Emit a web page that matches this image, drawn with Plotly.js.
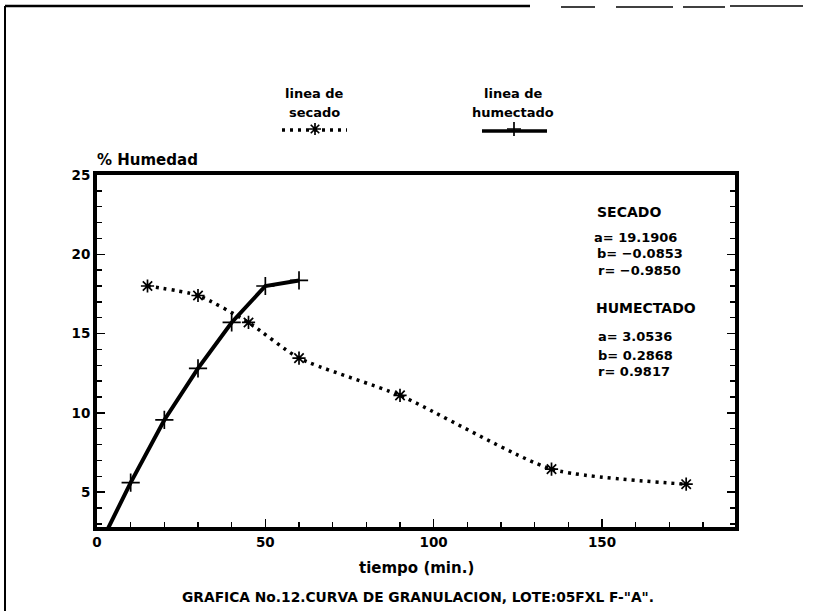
<!DOCTYPE html>
<html>
<head>
<meta charset="utf-8">
<script src="https://cdn.plot.ly/plotly-3.0.1.min.js"></script>
<style>
  html, body { margin: 0; padding: 0; background: #fff; }
  #chart { width: 818px; height: 611px; }
</style>
</head>
<body>
<div id="chart"></div>
<script>
// Curva de granulación, lote 05FXL: % de humedad frente al tiempo
const tiempoSecado = [15, 30, 45, 60, 90, 135, 175];
const humedadSecado = [18.0, 17.4, 15.7, 13.45, 11.1, 6.45, 5.5];
const tiempoHumectado = [0, 10, 20, 30, 40, 50, 60];
const humedadHumectado = [1.3, 5.6, 9.55, 12.8, 15.7, 18.0, 18.35];
const xTicks = [0, 50, 100, 150];
const yTicks = [5, 10, 15, 20, 25];
const regSecado = ['a= 19.1906', 'b= \u22120.0853', 'r= \u22120.9850'];
const regHumectado = ['a= 3.0536', 'b= 0.2868', 'r= 0.9817'];
const leyendaSecado = ['linea de', 'secado'];
const leyendaHumectado = ['linea de', 'humectado'];
const tituloY = '% Humedad';
const tituloX = 'tiempo (min.)';
const pie = 'GRAFICA No.12.CURVA DE GRANULACION, LOTE:05FXL F-"A".';

// page geometry (pixels)
const W = 818, H = 611;
const L = 97, R = 735, T = 175, B = 527;
const xp = v => (v - L) / (R - L);   // pixel x -> paper x
const yp = v => (B - v) / B;         // pixel y -> paper y (top margin is 0)

const FONT = 'DejaVu Sans, Liberation Sans, Arial, sans-serif';
const txt = (text, x, y, size, xanchor) => ({
  text: '<b>' + text + '</b>', xref: 'paper', yref: 'paper', x: xp(x), y: yp(y),
  xanchor: xanchor || 'left', yanchor: 'middle', showarrow: false,
  font: { family: FONT, size: size, color: '#000' }
});
const bold = v => '<b>' + v + '</b>';

const dotDash = '3px,5px';

const traces = [
  {
    name: 'secado', x: tiempoSecado, y: humedadSecado,
    type: 'scatter', mode: 'lines+markers',
    line: { color: '#000', width: 3.5, dash: dotDash, shape: 'spline', smoothing: 0.6 },
    marker: { symbol: 'asterisk-open', size: 11, color: '#000', line: { color: '#000', width: 1.7 } }
  },
  {
    name: 'humectado', x: tiempoHumectado, y: humedadHumectado,
    type: 'scatter', mode: 'lines+markers',
    line: { color: '#000', width: 4 },
    marker: { symbol: 'cross-thin-open', size: 13, color: '#000', line: { color: '#000', width: 1.7 } }
  },
  // legend samples, drawn on a pixel-scaled overlay axis
  {
    x: [282, 347], y: [130, 130], xaxis: 'x2', yaxis: 'y2', type: 'scatter', mode: 'lines',
    line: { color: '#000', width: 3.5, dash: dotDash }, hoverinfo: 'skip'
  },
  {
    x: [315], y: [129], xaxis: 'x2', yaxis: 'y2', type: 'scatter', mode: 'markers',
    marker: { symbol: 'asterisk-open', size: 10, color: '#000', line: { color: '#000', width: 1.7 } }, hoverinfo: 'skip'
  },
  {
    x: [482, 547], y: [131, 131], xaxis: 'x2', yaxis: 'y2', type: 'scatter', mode: 'lines',
    line: { color: '#000', width: 3.5 }, hoverinfo: 'skip'
  },
  {
    x: [514], y: [129], xaxis: 'x2', yaxis: 'y2', type: 'scatter', mode: 'markers',
    marker: { symbol: 'cross-thin-open', size: 10, color: '#000', line: { color: '#000', width: 1.7 } }, hoverinfo: 'skip'
  }
];

const annotations = [
  txt(tituloY, 95, 160, 15),
  txt(tituloX, 416, 568, 15, 'center'),
  txt(pie, 418, 597, 13.8, 'center'),
  txt(leyendaSecado[0], 314, 93, 13, 'center'),
  txt(leyendaSecado[1], 314, 112, 13, 'center'),
  txt(leyendaHumectado[0], 513, 93, 13, 'center'),
  txt(leyendaHumectado[1], 513, 112, 13, 'center'),
  txt('SECADO', 595, 212, 14),
  txt(regSecado[0], 592, 237, 13),
  txt(regSecado[1], 595, 254, 13),
  txt(regSecado[2], 596, 271, 13),
  txt('HUMECTADO', 594, 308, 14),
  txt(regHumectado[0], 596, 337, 13),
  txt(regHumectado[1], 596, 355, 13),
  txt(regHumectado[2], 596, 372, 13)
];

// sheet edges along the top and left of the page
const edge = (x0, y0, x1, y1, w) => ({
  type: 'line', xref: 'paper', yref: 'paper',
  x0: xp(x0), y0: yp(y0), x1: xp(x1), y1: yp(y1),
  line: { color: '#000', width: w }
});
const shapes = [
  edge(5, 6, 5, 611, 2),
  edge(5, 6, 530, 6, 2.5),
  edge(561, 7, 595, 7, 1.5),
  edge(616, 7, 673, 7, 1.5),
  edge(683, 7, 725, 7, 1.5),
  edge(730, 6, 803, 6, 1.5)
];

const tickFont = { family: FONT, size: 13.5, color: '#000' };

const layout = {
  width: W, height: H,
  margin: { l: L, r: W - R, t: 0, b: H - B, pad: 0 },
  paper_bgcolor: '#fff',
  plot_bgcolor: 'rgba(0,0,0,0)',
  showlegend: false,
  xaxis: {
    domain: [0, 1], anchor: 'y', range: [0, 189.5],
    tickvals: xTicks, ticktext: xTicks.map(bold),
    ticks: 'inside', ticklen: 8, tickwidth: 1.5, tickcolor: '#000',
    minor: { dtick: 10, ticks: 'inside', ticklen: 5, tickwidth: 1.5, tickcolor: '#000' },
    showline: true, linewidth: 4, linecolor: '#000', mirror: true,
    showgrid: false, zeroline: false, tickfont: tickFont, fixedrange: true
  },
  yaxis: {
    domain: [0, (B - T) / B], anchor: 'x', range: [2.8, 25],
    tickvals: yTicks, ticktext: yTicks.map(bold),
    ticks: 'inside', ticklen: 8, tickwidth: 1.5, tickcolor: '#000',
    minor: { dtick: 1, ticks: 'inside', ticklen: 5, tickwidth: 1.5, tickcolor: '#000' },
    showline: true, linewidth: 4, linecolor: '#000', mirror: 'allticks',
    showgrid: false, zeroline: false, tickfont: tickFont, fixedrange: true
  },
  xaxis2: { domain: [0, 1], anchor: 'y2', range: [L, R], visible: false, fixedrange: true },
  yaxis2: { domain: [0, 1], anchor: 'x2', range: [B, 0], visible: false, fixedrange: true },
  annotations: annotations,
  shapes: shapes
};

Plotly.newPlot('chart', traces, layout, { displayModeBar: false, staticPlot: true });
</script>
</body>
</html>
